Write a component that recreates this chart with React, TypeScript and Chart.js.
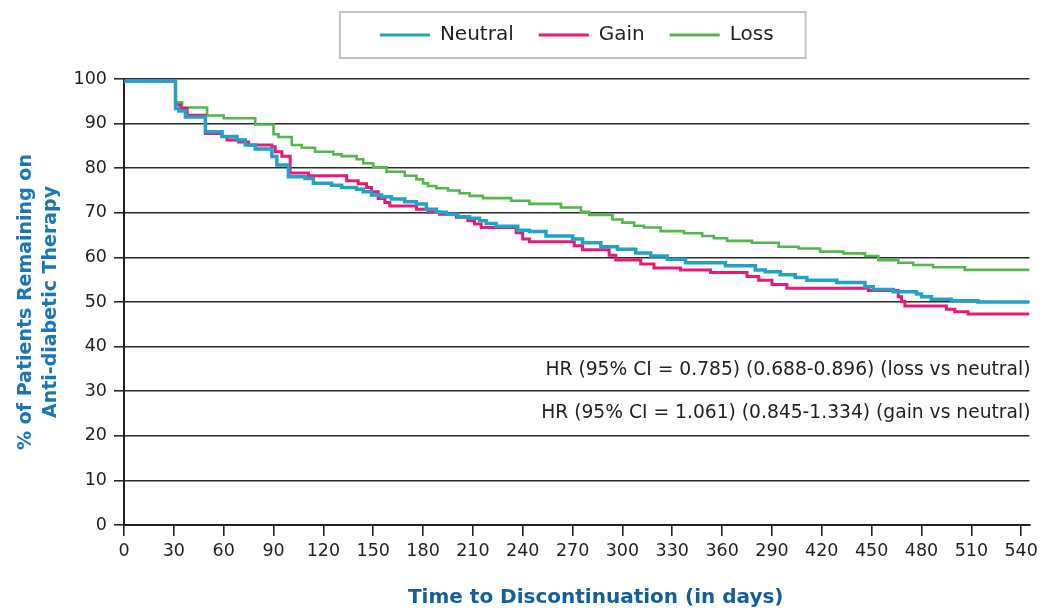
import React, { useEffect, useRef } from 'react';
import { Chart, registerables } from 'chart.js';

Chart.register(...registerables);

const seriesNames = ['Neutral', 'Gain', 'Loss'];
const seriesColors = ['#21a3c8', '#ea1877', '#52b84b'];

const neutralDays = [0, 31, 33, 37, 49, 59, 68, 73, 79, 89, 92, 99, 109, 114, 125, 131, 140, 144, 149, 155, 161, 169, 176, 182, 188, 194, 201, 208, 214, 218, 224, 237, 244, 254, 270, 276, 287, 297, 308, 317, 327, 338, 362, 380, 386, 395, 404, 411, 429, 446, 451, 463, 477, 480, 486, 498, 514, 545];
const neutralValues = [99.5, 93.4, 92.8, 91.5, 88.2, 87.1, 86.3, 85.2, 84.3, 82.6, 80.7, 78.1, 77.7, 76.6, 76.2, 75.7, 75.3, 74.7, 74.0, 73.6, 73.1, 72.5, 72.0, 70.8, 70.1, 69.7, 69.1, 68.8, 68.2, 67.6, 67.0, 66.1, 65.8, 64.8, 64.1, 63.3, 62.4, 61.8, 61.0, 60.3, 59.6, 58.8, 58.1, 57.2, 56.8, 56.1, 55.5, 54.9, 54.4, 53.4, 52.8, 52.3, 51.8, 51.2, 50.6, 50.3, 50.0, 50.0];

const gainDays = [0, 31, 34, 38, 49, 59, 62, 69, 75, 89, 91, 95, 100, 111, 134, 141, 146, 149, 153, 157, 160, 176, 183, 190, 200, 207, 211, 215, 236, 240, 244, 271, 276, 292, 296, 311, 319, 335, 353, 375, 382, 390, 399, 448, 466, 468, 470, 495, 500, 508, 545];
const gainValues = [99.5, 94.2, 93.4, 91.9, 87.8, 87.1, 86.3, 85.9, 85.2, 84.8, 83.7, 82.7, 78.9, 78.3, 77.2, 76.5, 75.7, 74.7, 73.2, 72.3, 71.5, 70.8, 70.2, 69.7, 69.0, 68.2, 67.5, 66.7, 65.5, 64.1, 63.5, 62.6, 61.7, 60.5, 59.4, 58.5, 57.6, 57.2, 56.6, 55.7, 54.9, 53.9, 53.1, 52.6, 51.2, 50.1, 49.1, 48.4, 47.8, 47.3, 47.3];

const lossDays = [0, 31, 35, 50, 60, 79, 90, 93, 101, 107, 115, 126, 131, 140, 144, 150, 158, 169, 176, 180, 183, 188, 195, 202, 208, 216, 233, 244, 263, 275, 280, 294, 300, 307, 313, 323, 337, 348, 355, 363, 378, 394, 406, 419, 433, 446, 454, 466, 475, 487, 506, 545];
const lossValues = [99.5, 94.8, 93.6, 91.8, 91.2, 89.8, 87.6, 87.0, 85.2, 84.6, 83.7, 83.1, 82.7, 82.0, 81.1, 80.2, 79.2, 78.3, 77.5, 76.6, 76.0, 75.5, 75.0, 74.4, 73.8, 73.3, 72.7, 72.0, 71.2, 70.2, 69.5, 68.5, 67.8, 67.1, 66.7, 65.9, 65.4, 64.8, 64.3, 63.7, 63.3, 62.4, 62.0, 61.3, 60.9, 60.3, 59.4, 58.8, 58.3, 57.8, 57.2, 57.2];

const xTickValues = [0, 30, 60, 90, 120, 150, 180, 210, 240, 270, 300, 330, 360, 390, 420, 450, 480, 510, 540];
const xTickLabels = ['0', '30', '60', '90', '120', '150', '180', '210', '240', '270', '300', '330', '360', '290', '420', '450', '480', '510', '540'];

const yTitleLines = ['% of Patients Remaining on', 'Anti-diabetic Therapy'];
const xTitle = 'Time to Discontinuation (in days)';
const hrLines = [
  'HR (95% CI = 0.785) (0.688-0.896) (loss vs neutral)',
  'HR (95% CI = 1.061) (0.845-1.334) (gain vs neutral)',
];

const FONT = '"DejaVu Sans", "Liberation Sans", Arial, sans-serif';
const TEXT = '#231f20';

const toPoints = (days: number[], vals: number[]) => days.map((d, i) => ({ x: d, y: vals[i] }));

const decorPlugin = {
  id: 'decor',
  afterDraw(chart: any) {
    const ctx = chart.ctx;
    const area = chart.chartArea;
    const lg = chart.legend;
    ctx.save();
    if (lg && lg.legendHitBoxes && lg.legendHitBoxes.length) {
      const hb = lg.legendHitBoxes;
      const last = hb[hb.length - 1];
      const l = hb[0].left - 40;
      const r = last.left + last.width + 32;
      const cy = hb[0].top + hb[0].height / 2;
      ctx.strokeStyle = '#c4c4c6';
      ctx.lineWidth = 2;
      ctx.strokeRect(l, cy - 23, r - l, 46);
    }
    const ys = chart.scales.y;
    ctx.font = '18.7px ' + FONT;
    ctx.fillStyle = TEXT;
    ctx.textAlign = 'right';
    ctx.textBaseline = 'middle';
    ctx.fillText(hrLines[0], area.right + 1, ys.getPixelForValue(34.8));
    ctx.fillText(hrLines[1], area.right + 1, ys.getPixelForValue(25.1));
    ctx.font = 'bold 20px ' + FONT;
    ctx.fillStyle = '#125f9d';
    ctx.textAlign = 'center';
    ctx.fillText(xTitle, (area.left + area.right) / 2 + 19, chart.height - 12);
    ctx.restore();
  },
};

export default function App() {
  const ref = useRef<HTMLCanvasElement | null>(null);
  useEffect(() => {
    if (!ref.current) return;
    const series = [
      toPoints(neutralDays, neutralValues),
      toPoints(gainDays, gainValues),
      toPoints(lossDays, lossValues),
    ];
    const widths = [3.5, 3, 2.6];
    const chart = new Chart(ref.current, {
      type: 'line',
      data: {
        datasets: series.map((pts, i) => ({
          label: seriesNames[i],
          data: pts,
          borderColor: seriesColors[i],
          backgroundColor: seriesColors[i],
          borderWidth: widths[i],
          stepped: true,
          pointRadius: 0,
          fill: false,
        })),
      },
      options: {
        responsive: false,
        animation: false,
        events: [],
        layout: { padding: { top: 0, left: 0, right: 11, bottom: 0 } },
        plugins: {
          tooltip: { enabled: false },
          legend: {
            display: true,
            position: 'top',
            fullSize: false,
            align: 'center',
            labels: {
              boxWidth: 50,
              boxHeight: 3,
              padding: 25,
              color: TEXT,
              font: { family: FONT, size: 20 },
              generateLabels: (chart: any) =>
                Chart.defaults.plugins.legend.labels
                  .generateLabels(chart)
                  .map((l: any) => ({ ...l, lineWidth: 0, fillStyle: l.strokeStyle })),
            },
          },
          subtitle: {
            display: true,
            text: '',
            position: 'top',
            weight: 500,
            font: { size: 10 },
            padding: { top: 12, bottom: 0 },
          } as any,
        },
        scales: {
          x: {
            type: 'linear',
            min: 0,
            max: 545,
            afterFit: (s: any) => {
              s.height = 85;
            },
            ticks: {
              stepSize: 30,
              includeBounds: false,
              autoSkip: false,
              maxRotation: 0,
              minRotation: 0,
              padding: 5,
              color: TEXT,
              font: { family: FONT, size: 17.5 },
              callback: (v: any) => {
                const i = xTickValues.indexOf(Number(v));
                return i >= 0 ? xTickLabels[i] : '';
              },
            },
            grid: {
              drawOnChartArea: false,
              drawTicks: true,
              tickLength: 11,
              color: '#231f20',
              lineWidth: 1.6,
            },
            border: { display: true, color: '#231f20', width: 2 },
          },
          y: {
            type: 'linear',
            min: 0,
            max: 100,
            afterFit: (s: any) => {
              s.width = 124;
            },
            ticks: {
              stepSize: 10,
              padding: 7,
              color: TEXT,
              font: { family: FONT, size: 17.5 },
            },
            grid: {
              drawOnChartArea: true,
              drawTicks: true,
              tickLength: 10,
              color: '#2a2a2a',
              lineWidth: 1.6,
            },
            border: { display: true, color: '#231f20', width: 2 },
            title: {
              display: true,
              text: yTitleLines,
              color: '#1b76b8',
              font: { family: FONT, size: 19, weight: 'bold', lineHeight: 1.35 },
              padding: { top: 13, bottom: 0 },
            },
          },
        },
      },
      plugins: [decorPlugin],
    } as any);
    return () => chart.destroy();
  }, []);

  return (
    <div style={{ position: 'absolute', left: 0, top: 0, width: 1043, height: 610, background: '#fff' }}>
      <canvas ref={ref} width={1043} height={610} style={{ display: 'block', width: 1043, height: 610 }} />
    </div>
  );
}
